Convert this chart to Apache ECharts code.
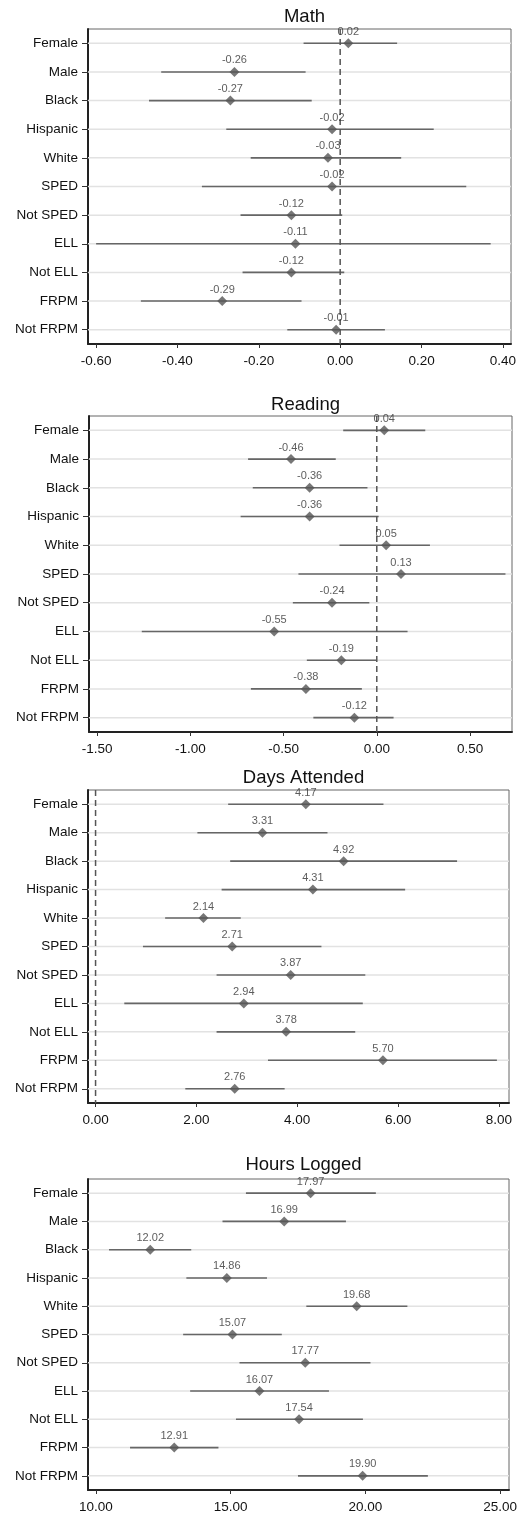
<!DOCTYPE html>
<html>
<head>
<meta charset="utf-8">
<script src="https://cdn.jsdelivr.net/npm/echarts@6/dist/echarts.min.js"></script>
<style>
html,body{margin:0;padding:0;background:#fff;}
#c{width:531px;height:1515px;}
</style>
</head>
<body>
<div id="c"></div>
<script>
const categories = ['Female','Male','Black','Hispanic','White','SPED','Not SPED','ELL','Not ELL','FRPM','Not FRPM'];

const panelTitles = ['Math','Reading','Days Attended','Hours Logged'];

const mathEst  = [0.02,-0.26,-0.27,-0.02,-0.03,-0.02,-0.12,-0.11,-0.12,-0.29,-0.01];
const mathLow  = [-0.09,-0.44,-0.47,-0.28,-0.22,-0.34,-0.245,-0.60,-0.24,-0.49,-0.13];
const mathHigh = [0.14,-0.085,-0.07,0.23,0.15,0.31,0.005,0.37,0.01,-0.095,0.11];

const readingEst  = [0.04,-0.46,-0.36,-0.36,0.05,0.13,-0.24,-0.55,-0.19,-0.38,-0.12];
const readingLow  = [-0.18,-0.69,-0.665,-0.73,-0.20,-0.42,-0.45,-1.26,-0.375,-0.675,-0.34];
const readingHigh = [0.26,-0.22,-0.05,0.01,0.285,0.69,-0.04,0.165,0.0,-0.08,0.09];

const daysEst  = [4.17,3.31,4.92,4.31,2.14,2.71,3.87,2.94,3.78,5.70,2.76];
const daysLow  = [2.63,2.02,2.67,2.50,1.38,0.94,2.40,0.57,2.40,3.42,1.78];
const daysHigh = [5.71,4.60,7.17,6.14,2.88,4.48,5.35,5.30,5.15,7.96,3.75];

const hoursEst  = [17.97,16.99,12.02,14.86,19.68,15.07,17.77,16.07,17.54,12.91,19.90];
const hoursLow  = [15.57,14.70,10.49,13.36,17.81,13.24,15.33,13.50,15.20,11.27,17.50];
const hoursHigh = [20.39,19.28,13.54,16.35,21.56,16.90,20.19,18.65,19.91,14.55,22.32];

// axis extents and tick steps per panel
const axisMin   = [-0.62, -1.543, -0.15, 9.71];
const axisMax   = [0.42, 0.725, 8.2, 25.33];
const tickStep  = [0.2, 0.5, 2, 5];
const splitNums = [5, 5, 4, 3];
const zeroLine  = [0, 0, 0, null];

const ests  = [mathEst, readingEst, daysEst, hoursEst];
const lows  = [mathLow, readingLow, daysLow, hoursLow];
const highs = [mathHigh, readingHigh, daysHigh, hoursHigh];

const grids = [
  {left: 88, top: 29, right: 20, height: 315},
  {left: 89, top: 416, right: 19, height: 316},
  {left: 88, top: 790, right: 22, height: 313},
  {left: 88, top: 1179, right: 22, height: 311}
];
const titleTops = [2, 390, 763, 1150];

const FONT = '"Liberation Sans", Arial, sans-serif';

function renderCI(params, api) {
  const lo = api.coord([api.value(0), api.value(2)]);
  const hi = api.coord([api.value(1), api.value(2)]);
  const cs = params.coordSys;
  return {
    type: 'group',
    children: [
      {type: 'line', shape: {x1: cs.x, y1: lo[1], x2: cs.x + cs.width, y2: lo[1]},
       style: {stroke: '#e2e2e2', lineWidth: 1.5}},
      {type: 'line', shape: {x1: lo[0], y1: lo[1], x2: hi[0], y2: hi[1]},
       style: {stroke: '#666', lineWidth: 1.6}}
    ]
  };
}

function renderRef(params, api) {
  const pt = api.coord([api.value(0), 0]);
  const cs = params.coordSys;
  return {
    type: 'line',
    shape: {x1: pt[0], y1: cs.y, x2: pt[0], y2: cs.y + cs.height},
    style: {stroke: '#555', lineWidth: 1.5, lineDash: [6, 4]}
  };
}

const option = {
  backgroundColor: '#fff',
  animation: false,
  title: [], grid: [], xAxis: [], yAxis: [], series: []
};

for (let p = 0; p < 4; p++) {
  const g = grids[p];
  option.title.push({
    text: panelTitles[p],
    left: g.left + (531 - g.left - g.right) / 2,
    top: titleTops[p],
    textAlign: 'center',
    textStyle: {fontFamily: FONT, fontSize: 18.5, fontWeight: 'normal', color: '#111'}
  });
  option.grid.push({
    left: g.left, top: g.top, right: g.right, height: g.height,
    show: true, borderColor: '#666', borderWidth: 1,
    containLabel: false
  });
  const step = tickStep[p];
  option.xAxis.push({
    type: 'value', gridIndex: p, min: axisMin[p], max: axisMax[p], splitNumber: splitNums[p],
    axisLine: {show: true, onZero: false, lineStyle: {color: '#222', width: 2}},
    axisTick: {show: true, length: 4, lineStyle: {color: '#333', width: 1}},
    splitLine: {show: false},
    axisLabel: {
      show: true, margin: 10, color: '#111', fontFamily: FONT, fontSize: 13.5,
      showMinLabel: false, showMaxLabel: false,
      formatter: function (v) {
        const r = v / step;
        if (Math.abs(r - Math.round(r)) > 1e-6) return '';
        return v.toFixed(2);
      }
    }
  });
  option.yAxis.push({
    type: 'category', gridIndex: p, data: categories, inverse: true,
    axisLine: {show: true, onZero: false, lineStyle: {color: '#222', width: 2}},
    axisTick: {show: true, alignWithLabel: true, length: 6, lineStyle: {color: '#333', width: 1}},
    splitLine: {show: false},
    axisLabel: {margin: 10, color: '#111', fontFamily: FONT, fontSize: 13.5}
  });
  const ciData = categories.map((c, i) => [lows[p][i], highs[p][i], i]);
  option.series.push({
    type: 'custom', xAxisIndex: p, yAxisIndex: p, z: 1,
    renderItem: renderCI,
    encode: {x: [0, 1], y: 2},
    data: ciData,
    silent: true
  });
  if (zeroLine[p] !== null) {
    option.series.push({
      type: 'custom', xAxisIndex: p, yAxisIndex: p, z: 2,
      renderItem: renderRef,
      encode: {x: 0},
      data: [[zeroLine[p]]],
      silent: true
    });
  }
  const ptData = categories.map((c, i) => [ests[p][i], i]);
  option.series.push({
    type: 'scatter', xAxisIndex: p, yAxisIndex: p, z: 3,
    symbol: 'diamond', symbolSize: 10,
    itemStyle: {color: '#555'},
    label: {
      show: true, position: 'top', distance: 1,
      fontFamily: FONT, fontSize: 11, color: '#333',
      formatter: function (d) { return d.value[0].toFixed(2); }
    },
    data: ptData,
    silent: true
  });
}

const chart = echarts.init(document.getElementById('c'), null, {renderer: 'canvas'});
chart.setOption(option);
</script>
</body>
</html>
